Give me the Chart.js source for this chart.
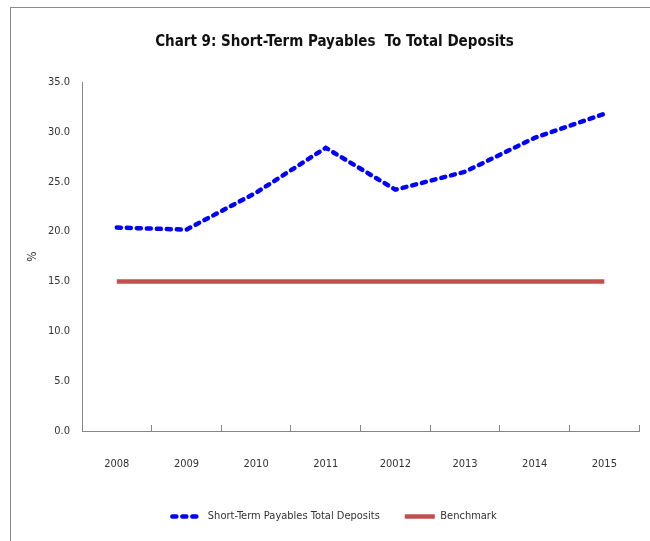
<!DOCTYPE html>
<html>
<head>
<meta charset="utf-8">
<script src="https://cdn.jsdelivr.net/npm/chart.js@4/dist/chart.umd.min.js"></script>
<style>
  html, body { margin: 0; padding: 0; background: #fff; overflow: hidden; }
  #wrap { position: relative; width: 650px; height: 541px; }
  #frame { position: absolute; left: 10px; top: 7px; width: 700px; height: 600px;
           border: 1px solid #8c8c8c; pointer-events: none; }
</style>
</head>
<body>
<div id="wrap">
  <canvas id="chart" width="650" height="541"></canvas>
  <div id="frame"></div>
</div>
<script>
const years = ["2008", "2009", "2010", "2011", "20012", "2013", "2014", "2015"];
const payables = [20.4, 20.2, 23.9, 28.4, 24.2, 26.0, 29.4, 31.8];
const benchmark = [15, 15, 15, 15, 15, 15, 15, 15];
const yTicks = [0, 5, 10, 15, 20, 25, 30, 35];

const font = "'DejaVu Sans', sans-serif";
const narrow = "normal condensed"; // picks the condensed DejaVu face
const axisGray = "#868686";
const textColor = "#333333";

// legend samples should look like the lines (dashes and all)
function legendLabels(chart) {
  const items = Chart.defaults.plugins.legend.labels.generateLabels(chart);
  items.forEach((item) => {
    const ds = chart.data.datasets[item.datasetIndex];
    item.lineDash = ds.borderDash || [];
    item.lineCap = ds.borderCapStyle || "butt";
    item.lineWidth = ds.borderWidth;
    item.strokeStyle = ds.borderColor;
  });
  return items;
}

const ctx = document.getElementById("chart").getContext("2d");
new Chart(ctx, {
  type: "line",
  data: {
    labels: years,
    datasets: [
      {
        label: "Short-Term Payables Total Deposits",
        data: payables,
        borderColor: "#0000ff",
        backgroundColor: "#0000ff",
        borderWidth: 4.5,
        borderDash: [4, 6],
        borderCapStyle: "round",
        pointRadius: 0,
        tension: 0,
      },
      {
        label: "Benchmark",
        data: benchmark,
        borderColor: "#c0504d",
        backgroundColor: "#c0504d",
        borderWidth: 4.5,
        pointRadius: 0,
        tension: 0,
      },
    ],
  },
  options: {
    responsive: false,
    animation: false,
    layout: { padding: { left: 20, right: 1, top: 20, bottom: 9 } },
    plugins: {
      title: {
        display: true,
        text: "Chart 9: Short-Term Payables  To Total Deposits",
        color: "#111",
        font: { family: font, size: 15, weight: "bold condensed" },
        padding: { top: 13, bottom: 31 },
      },
      legend: {
        position: "bottom",
        labels: {
          usePointStyle: true,
          pointStyle: "line",
          pointStyleWidth: 30,
          color: textColor,
          font: { family: font, size: 11, weight: narrow },
          padding: 25,
          generateLabels: legendLabels,
        },
      },
      tooltip: { enabled: false },
    },
    scales: {
      x: {
        offset: true,
        afterFit: (scale) => { scale.height = 55; },
        grid: { offset: true, drawOnChartArea: false, drawTicks: true, tickLength: -6, color: axisGray },
        border: { color: axisGray },
        ticks: { color: textColor, font: { family: font, size: 11, weight: narrow }, padding: 33 },
      },
      y: {
        min: 0,
        max: 35,
        afterBuildTicks: (scale) => { scale.ticks = yTicks.map((v) => ({ value: v })); },
        afterFit: (scale) => { scale.width = 62; },
        grid: { drawOnChartArea: false, drawTicks: false },
        border: { color: axisGray },
        ticks: {
          color: textColor,
          font: { family: font, size: 11, weight: narrow },
          padding: 12,
          callback: (v) => Number(v).toFixed(1),
        },
        title: {
          display: true,
          text: "%",
          color: textColor,
          font: { family: font, size: 12, weight: narrow },
          padding: { top: 6, bottom: 0 },
        },
      },
    },
  },
});
</script>
</body>
</html>
